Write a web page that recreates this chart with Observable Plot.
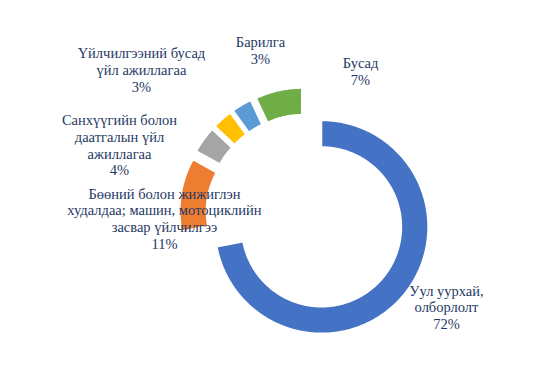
<!DOCTYPE html>
<html><head><meta charset="utf-8">
<script src="https://cdn.jsdelivr.net/npm/d3@7"></script>
<script src="https://cdn.jsdelivr.net/npm/@observablehq/plot@0.6"></script>
<style>
html,body{margin:0;padding:0;background:#fff;}
#chart svg{display:block}
</style>
</head><body><div id="chart"></div>
<script>
const categories = [
  "Уул уурхай,\nолборлолт",
  "Бөөний болон жижиглэн\nхудалдаа; машин, мотоциклийн\nзасвар үйлчилгээ",
  "Санхүүгийн болон\nдаатгалын үйл\nажиллагаа",
  "Үйлчилгээний бусад\nүйл ажиллагаа",
  "Барилга",
  "Бусад"
];
const values = [72, 11, 4, 3, 3, 7];
const colors = ["#4472C4", "#ED7D31", "#A5A5A5", "#FFC000", "#5B9BD5", "#70AD47"];

// label layout (data units, radius = 1)
const labelX = [1.318, -1.330, -1.752, -1.546, -0.428, 0.511];
const labelY = [-0.872, -0.041, 0.649, 1.358, 1.541, 1.344];

const outerR = 1, innerR = 0.75, explode = 0.188;
const arcs = d3.pie().sort(null).value(d => d)(values);
const pts = [];
arcs.forEach((a, i) => {
  const mid = (a.startAngle + a.endAngle) / 2;
  const ox = explode * Math.sin(mid), oy = explode * Math.cos(mid);
  const n = Math.max(8, Math.ceil((a.endAngle - a.startAngle) / 0.01));
  for (let k = 0; k <= n; k++) {
    const t = a.startAngle + (a.endAngle - a.startAngle) * k / n;
    pts.push({cat: categories[i], x: ox + outerR * Math.sin(t), y: oy + outerR * Math.cos(t)});
  }
  for (let k = n; k >= 0; k--) {
    const t = a.startAngle + (a.endAngle - a.startAngle) * k / n;
    pts.push({cat: categories[i], x: ox + innerR * Math.sin(t), y: oy + innerR * Math.cos(t)});
  }
});

const labels = categories.map((c, i) => ({text: c + "\n" + values[i] + "%", x: labelX[i], y: labelY[i]}));

const chart = Plot.plot({
  width: 536, height: 379,
  margin: 0,
  x: {domain: [-2.869, 2.163], axis: null},
  y: {domain: [-1.553, 2.006], axis: null},
  color: {type: "ordinal", domain: categories, range: colors},
  style: {fontFamily: "Times New Roman, serif", background: "white"},
  marks: [
    Plot.line(pts, {x: "x", y: "y", z: "cat", fill: "cat", stroke: "white", strokeWidth: 1.5, curve: "linear-closed"}),
    Plot.text(labels, {x: "x", y: "y", text: "text", fontSize: 14.5, fill: "#1f3864", fontFamily: "Times New Roman", lineHeight: 1.15})
  ]
});
document.getElementById("chart").appendChild(chart);
</script>
</body></html>
